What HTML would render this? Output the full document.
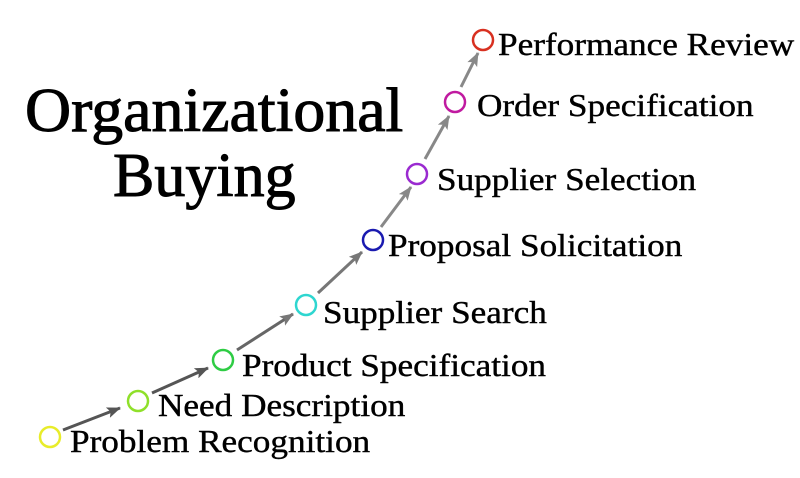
<!DOCTYPE html>
<html><head><meta charset="utf-8"><style>html,body{margin:0;padding:0;background:#fff}
#w{position:relative;width:800px;height:478px;overflow:hidden}
svg{position:absolute;left:0;top:0}
.t{position:absolute;font-family:"Liberation Serif","Times New Roman",Times,serif;color:#000;white-space:nowrap;font-size:32px;line-height:32px;transform:scaleX(1.1);transform-origin:0 0;-webkit-text-stroke:0.4px #000}
.h{font-size:62px;line-height:62px;transform:scaleX(1.03);-webkit-text-stroke:1px #000}</style></head>
<body><div id="w">
<svg width="800" height="478" viewBox="0 0 800 478" xmlns="http://www.w3.org/2000/svg">
<defs>
<marker id="a1" markerWidth="14" markerHeight="11" refX="13" refY="5.5" orient="auto" markerUnits="userSpaceOnUse"><path d="M0,0 L14,5.5 L0,11 L3,5.5 z" fill="#555"/></marker>
<marker id="a2" markerWidth="14" markerHeight="11" refX="13" refY="5.5" orient="auto" markerUnits="userSpaceOnUse"><path d="M0,0 L14,5.5 L0,11 L3,5.5 z" fill="#777"/></marker>
<marker id="a3" markerWidth="14" markerHeight="11" refX="13" refY="5.5" orient="auto" markerUnits="userSpaceOnUse"><path d="M0,0 L14,5.5 L0,11 L3,5.5 z" fill="#888"/></marker>
</defs>
<g stroke-width="3" fill="none">
<line x1="63" y1="430" x2="120" y2="408" stroke="#555" marker-end="url(#a1)"/>
<line x1="152" y1="393" x2="208" y2="368" stroke="#555" marker-end="url(#a1)"/>
<line x1="237" y1="350" x2="293" y2="314" stroke="#666" marker-end="url(#a2)"/>
<line x1="318" y1="293" x2="362" y2="252" stroke="#777" marker-end="url(#a2)"/>
<line x1="381" y1="227" x2="411" y2="187" stroke="#888" marker-end="url(#a3)"/>
<line x1="425" y1="159" x2="449" y2="116" stroke="#888" marker-end="url(#a3)"/>
<line x1="461" y1="87" x2="478" y2="53" stroke="#888" marker-end="url(#a3)"/>
</g>
<g fill="none" stroke-width="2.5">
<circle cx="50" cy="437" r="10" stroke="#e8ec2a"/>
<circle cx="138" cy="401" r="10" stroke="#8fe02a"/>
<circle cx="223" cy="360" r="10" stroke="#2ecc44"/>
<circle cx="306" cy="305" r="10" stroke="#2ed6d0"/>
<circle cx="373" cy="240" r="10" stroke="#1a1ab0"/>
<circle cx="417" cy="174" r="10" stroke="#9a2ad0"/>
<circle cx="455" cy="102" r="10" stroke="#c01aa0"/>
<circle cx="483" cy="40" r="10" stroke="#d83020"/>
</g>
</svg>
<div class="t h" style="left:25px;top:80px">Organizational</div>
<div class="t h" style="left:113px;top:145px;transform:none">Buying</div>
<div class="t" style="left:70px;top:425px">Problem Recognition</div>
<div class="t" style="left:158px;top:389px">Need Description</div>
<div class="t" style="left:242px;top:349px">Product Specification</div>
<div class="t" style="left:323px;top:296px">Supplier Search</div>
<div class="t" style="left:388px;top:229px">Proposal Solicitation</div>
<div class="t" style="left:437px;top:163px">Supplier Selection</div>
<div class="t" style="left:477px;top:89px">Order Specification</div>
<div class="t" style="left:498px;top:28px">Performance Review</div>
</div></body></html>
